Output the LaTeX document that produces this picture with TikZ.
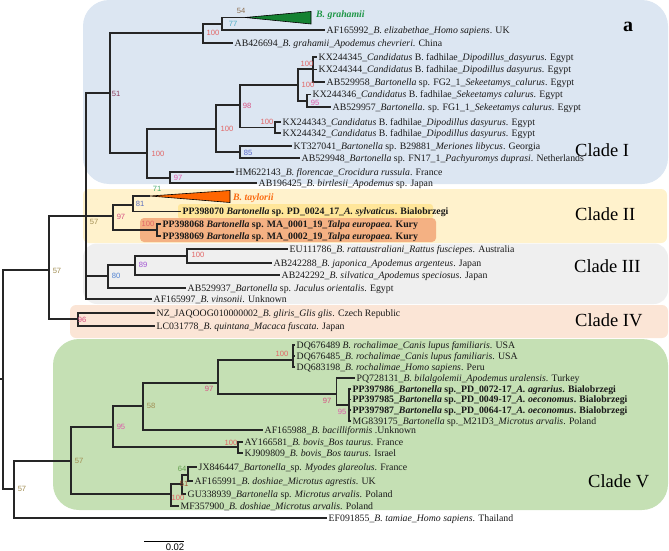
\documentclass[tikz,border=0pt]{standalone}
\usepackage{fontspec}
\setmainfont{Liberation Serif}
\newfontfamily\bsfont{Liberation Sans}
\definecolor{bgblue}{RGB}{220,230,242}
\definecolor{bgyellow}{RGB}{255,242,204}
\definecolor{bggray}{RGB}{239,239,239}
\definecolor{bgpeach}{RGB}{251,229,214}
\definecolor{bggreen}{RGB}{197,224,180}
\definecolor{hlyellow}{RGB}{255,230,153}
\definecolor{hlorange}{RGB}{244,177,131}
\definecolor{cgreen}{RGB}{30,150,70}
\definecolor{ctri}{RGB}{20,130,50}
\definecolor{corange}{RGB}{250,105,15}
\definecolor{ctriorange}{RGB}{255,102,0}
\definecolor{cA}{RGB}{226,102,102}
\definecolor{cB}{RGB}{214,80,130}
\definecolor{cC}{RGB}{220,90,170}
\definecolor{cD}{RGB}{140,60,90}
\definecolor{cE}{RGB}{140,110,80}
\definecolor{cF}{RGB}{75,172,198}
\definecolor{cG}{RGB}{85,100,200}
\definecolor{cH}{RGB}{160,80,210}
\definecolor{cI}{RGB}{80,130,210}
\definecolor{cJ}{RGB}{160,140,80}
\definecolor{cK}{RGB}{100,160,80}
\definecolor{cL}{RGB}{70,170,110}
\definecolor{cM}{RGB}{90,110,190}
\definecolor{cN}{RGB}{160,80,50}
\begin{document}
\begin{tikzpicture}[x=1pt,y=-1pt,
  br/.style={line width=1.1pt, draw=black!85},
  leaf/.style={anchor=west, inner xsep=1.5pt, inner ysep=0pt, text height=7.2pt, text depth=0.8pt, font=\fontsize{9.8}{11}\selectfont, text=black!90},
  bs/.style={inner sep=0pt, font=\bsfont\fontsize{7.6}{8}\selectfont},
  clade/.style={anchor=west, inner sep=0pt, font=\fontsize{18.5}{20}\selectfont},
]
\useasboundingbox (0,0) rectangle (669,551);
% backgrounds
\fill[bgblue, rounded corners=26pt] (83,0) rectangle (668,184);
\fill[bgyellow, rounded corners=6pt] (83,189) rectangle (667,243);
\fill[bggray, rounded corners=14pt] (83,243.5) rectangle (668,304);
\fill[bgpeach, rounded corners=6pt] (70,305) rectangle (668,338);
\fill[bggreen, rounded corners=26pt] (53,339) rectangle (668,510);
\fill[hlyellow, rounded corners=3pt] (178,204) rectangle (433,219);
\fill[hlorange, rounded corners=4pt] (140,218) rectangle (436,242);
% internal nodes
\coordinate (r) at (0,379);
\coordinate (n3) at (3,379);
\coordinate (n49) at (49,270);
\coordinate (n86) at (86,216);
\coordinate (n110) at (110,93);
\coordinate (n203) at (203,33);
\coordinate (n222) at (222,24);
\coordinate (gApex) at (245,17.5);
\coordinate (n147) at (147,153);
\coordinate (n216) at (216,129);
\coordinate (n240) at (240,105);
\coordinate (n298) at (298,85);
\coordinate (n313) at (313,69);
\coordinate (n307) at (307,101);
\coordinate (n275) at (275,127.5);
\coordinate (n240b) at (240,152);
\coordinate (n170) at (170,178);
\coordinate (n113) at (113,216);
\coordinate (n133) at (133,205);
\coordinate (tApex) at (150,196);
\coordinate (n157) at (157,230);
\coordinate (n108) at (108,276);
\coordinate (n135) at (135,265);
\coordinate (n187) at (187,256);
\coordinate (n78) at (78,319);
\coordinate (n14) at (14,489);
\coordinate (n71) at (71,461);
\coordinate (n113v) at (113,427);
\coordinate (n143) at (143,406);
\coordinate (n218) at (218,383);
\coordinate (n293) at (293,360);
\coordinate (n337) at (336.5,394);
\coordinate (n348) at (349,405);
\coordinate (n238) at (238,447);
\coordinate (n171) at (171,494);
\coordinate (n182) at (182,484);
\coordinate (n188) at (188,475);
% leaves: clade I
\node[leaf] (AF165992) at (325,30) {AF165992\_\textit{B. elizabethae\_Homo sapiens}. UK};
\node[leaf] (AB426694) at (233,43) {AB426694\_\textit{B. grahamii\_Apodemus chevrieri}. China};
\node[leaf] (KX244345) at (317,57) {KX244345\_\textit{Candidatus} B. fadhilae\_\textit{Dipodillus\_dasyurus}. Egypt};
\node[leaf] (KX244344) at (317,69.5) {KX244344\_\textit{Candidatus} B. fadhilae\_\textit{Dipodillus dasyurus}. Egypt};
\node[leaf] (AB529958) at (325,82) {AB529958\_\textit{Bartonella} sp. FG2\_1\_\textit{Sekeetamys\_calurus}. Egypt};
\node[leaf] (KX244346) at (311,94.5) {KX244346\_\textit{Candidatus} B. fadhilae\_\textit{Sekeetamys calurus}. Egypt};
\node[leaf] (AB529957) at (331,107) {AB529957\_\textit{Bartonella}. sp. FG1\_1\_\textit{Sekeetamys calurus}. Egypt};
\node[leaf] (KX244343) at (281,122) {KX244343\_\textit{Candidatus} B. fadhilae\_\textit{Dipodillus dasyurus}. Egypt};
\node[leaf] (KX244342) at (281,133) {KX244342\_\textit{Candidatus} B. fadhilae\_\textit{Dipodillus dasyurus}. Egypt};
\node[leaf] (KT327041) at (292,146) {KT327041\_\textit{Bartonella} sp. B29881\_\textit{Meriones libycus}. Georgia};
\node[leaf] (AB529948) at (300,158) {AB529948\_\textit{Bartonella} sp. FN17\_1\_\textit{Pachyuromys duprasi}. Netherlands};
\node[leaf] (HM622143) at (234,172) {HM622143\_\textit{B. florencae\_Crocidura russula}. France};
\node[leaf] (AB196425) at (257,183) {AB196425\_\textit{B. birtlesii\_Apodemus} sp. Japan};
% clade II
\node[leaf] (PP398070) at (181,211.5) {\textbf{PP398070 \textit{Bartonella} sp. PD\_0024\_17\_\textit{A. sylvaticus}. Bialobrzegi}};
\node[leaf] (PP398068) at (161,224) {\textbf{PP398068 \textit{Bartonella} sp. MA\_0001\_19\_\textit{Talpa europaea}. Kury}};
\node[leaf] (PP398069) at (161,236) {\textbf{PP398069 \textit{Bartonella} sp. MA\_0002\_19\_\textit{Talpa europaea}. Kury}};
% clade III
\node[leaf] (EU111786) at (288,249) {EU111786\_\textit{B. rattaustraliani\_Rattus fusciepes}. Australia};
\node[leaf] (AB242288) at (272,263) {AB242288\_\textit{B. japonica\_Apodemus argenteus}. Japan};
\node[leaf] (AB242292) at (280,275) {AB242292\_\textit{B. silvatica\_Apodemus speciosus}. Japan};
\node[leaf] (AB529937) at (186,288) {AB529937\_\textit{Bartonella} sp. \textit{Jaculus orientalis}. Egypt};
\node[leaf] (AF165997) at (152,299) {AF165997\_\textit{B. vinsonii}. Unknown};
% clade IV
\node[leaf] (NZJAQ) at (155,313) {NZ\_JAQOOG010000002\_\textit{B. gliris\_Glis glis}. Czech Republic};
\node[leaf] (LC031778) at (155,326) {LC031778\_\textit{B. quintana\_Macaca fuscata}. Japan};
% clade V
\node[leaf] (DQ676489) at (295,345) {DQ676489 \textit{B. rochalimae\_Canis lupus familiaris}. USA};
\node[leaf] (DQ676485) at (295,356) {DQ676485\_\textit{B. rochalimae\_Canis lupus familiaris}. USA};
\node[leaf] (DQ683198) at (295,367) {DQ683198\_\textit{B. rochalimae\_Homo sapiens}. Peru};
\node[leaf] (PQ728131) at (355,378) {PQ728131\_\textit{B. bilalgolemii\_Apodemus uralensis}. Turkey};
\node[leaf] (PP397986) at (351,389) {\textbf{PP397986\_\textit{Bartonella} sp.\_PD\_0072-17\_\textit{A. agrarius}. Bialobrzegi}};
\node[leaf] (PP397985) at (351,399.5) {\textbf{PP397985\_\textit{Bartonella} sp.\_PD\_0049-17\_\textit{A. oeconomus}. Bialobrzegi}};
\node[leaf] (PP397987) at (351,410) {\textbf{PP397987\_\textit{Bartonella} sp.\_PD\_0064-17\_\textit{A. oeconomus}. Bialobrzegi}};
\node[leaf] (MG839175) at (351,421) {MG839175\_\textit{Bartonella} sp.\_M21D3\_\textit{Microtus arvalis}. Poland};
\node[leaf] (AF165988) at (263,430) {AF165988\_\textit{B. bacilliformis} .Unknown};
\node[leaf] (AY166581) at (243,442) {AY166581\_\textit{B. bovis\_Bos taurus}. France};
\node[leaf] (KJ909809) at (243,453) {KJ909809\_\textit{B. bovis\_Bos taurus}. Israel};
\node[leaf] (JX846447) at (197,467) {JX846447\_\textit{Bartonella}\_sp. \textit{Myodes glareolus}. France};
\node[leaf] (AF165991) at (193,481) {AF165991\_\textit{B. doshiae\_Microtus agrestis}. UK};
\node[leaf] (GU338939) at (186,494) {GU338939\_\textit{Bartonella} sp. \textit{Microtus arvalis}. Poland};
\node[leaf] (MF357900) at (179,506) {MF357900\_\textit{B. doshiae\_Microtus arvalis}. Poland};
\node[leaf] (EF091855) at (327,518) {EF091855\_\textit{B. tamiae\_Homo sapiens}. Thailand};
% collapsed subtrees
\filldraw[fill=ctri, draw=black, line width=0.6pt] (gApex) -- (311,11.5) -- (311,24) -- cycle;
\node[anchor=west, inner sep=0pt, text=cgreen, font=\fontsize{9.8}{11}\selectfont\bfseries\itshape] (grah) at (316,15) {B. grahamii};
\filldraw[fill=ctriorange, draw=black, line width=0.6pt] (tApex) -- (230,190.5) -- (230,202.5) -- cycle;
\node[anchor=west, inner sep=0pt, text=corange, font=\fontsize{9.8}{11}\selectfont\bfseries\itshape] (tayl) at (233,198) {B. taylorii};
% branches
\draw[br] (r) -- (n3);
\draw[br] (n3) |- (n49);
\draw[br] (n3) |- (n14);
\draw[br] (n49) |- (n86);
\draw[br] (n49) |- (n78);
\draw[br] (n86) |- (n110);
\draw[br] (n86) -- (n113);
\draw[br] (n86) |- (n108);
\draw[br] (n86) |- (AF165997.west);
\draw[br] (n110) |- (n203);
\draw[br] (n110) |- (n147);
\draw[br] (n203) |- (n222);
\draw[br] (n203) |- (AB426694.west);
\draw[br] (n222) |- (gApex);
\draw[br] (n222) |- (AF165992.west);
\draw[br] (n147) |- (n216);
\draw[br] (n147) |- (n170);
\draw[br] (n216) |- (n240);
\draw[br] (n216) |- (n240b);
\draw[br] (n240) |- (n298);
\draw[br] (n240) |- (n275);
\draw[br] (n298) |- (n313);
\draw[br] (n298) |- (n307);
\draw[br] (n313) |- (KX244345.west);
\draw[br] (n313) |- (KX244344.west);
\draw[br] (n313) |- (AB529958.west);
\draw[br] (n307) |- (KX244346.west);
\draw[br] (n307) |- (AB529957.west);
\draw[br] (n275) |- (KX244343.west);
\draw[br] (n275) |- (KX244342.west);
\draw[br] (n240b) |- (KT327041.west);
\draw[br] (n240b) |- (AB529948.west);
\draw[br] (n170) |- (HM622143.west);
\draw[br] (n170) |- (AB196425.west);
\draw[br] (n113) |- (n133);
\draw[br] (n113) |- (n157);
\draw[br] (n133) |- (tApex);
\draw[br] (n133) |- (PP398070.west);
\draw[br] (n157) |- (PP398068.west);
\draw[br] (n157) |- (PP398069.west);
\draw[br] (n108) |- (n135);
\draw[br] (n108) |- (AB529937.west);
\draw[br] (n135) |- (n187);
\draw[br] (n135) |- (AB242292.west);
\draw[br] (n187) |- (EU111786.west);
\draw[br] (n187) |- (AB242288.west);
\draw[br] (n78) |- (NZJAQ.west);
\draw[br] (n78) |- (LC031778.west);
\draw[br] (n14) |- (n71);
\draw[br] (n14) |- (EF091855.west);
\draw[br] (n71) |- (n113v);
\draw[br] (n71) |- (n171);
\draw[br] (n113v) |- (n143);
\draw[br] (n113v) |- (n238);
\draw[br] (n143) |- (n218);
\draw[br] (n143) |- (AF165988.west);
\draw[br] (n218) |- (n293);
\draw[br] (n218) |- (n337);
\draw[br] (n293) |- (DQ676489.west);
\draw[br] (n293) |- (DQ676485.west);
\draw[br] (n293) |- (DQ683198.west);
\draw[br] (n337) |- (PQ728131.west);
\draw[br] (n337) |- (n348);
\draw[br] (n348) |- (PP397986.west);
\draw[br] (n348) |- (PP397985.west);
\draw[br] (n348) |- (PP397987.west);
\draw[br] (n348) |- (MG839175.west);
\draw[br] (n238) |- (AY166581.west);
\draw[br] (n238) |- (KJ909809.west);
\draw[br] (n171) |- (n182);
\draw[br] (n171) |- (MF357900.west);
\draw[br] (n182) |- (n188);
\draw[br] (n182) |- (GU338939.west);
\draw[br] (n188) |- (JX846447.west);
\draw[br] (n188) |- (AF165991.west);
% bootstrap values
\node[bs, text=cE] (b1) at (241,11) {54};
\node[bs, text=cF] (b2) at (233,24) {77};
\node[bs, text=cA] (b3) at (213,33) {100};
\node[bs, text=cD] (b4) at (116,94) {51};
\node[bs, text=cA] (b5) at (307,64) {100};
\node[bs, text=cA] (b6) at (308,85) {100};
\node[bs, text=cC] (b7) at (315,102.5) {95};
\node[bs, text=cB] (b8) at (247,106) {98};
\node[bs, text=cA] (b9) at (267,122) {100};
\node[bs, text=cA] (b10) at (227,129) {100};
\node[bs, text=cG] (b11) at (248,153) {85};
\node[bs, text=cA] (b12) at (158,154) {100};
\node[bs, text=cC] (b13) at (178,178) {97};
\node[bs, text=cL] (b14) at (157,189) {71};
\node[bs, text=cM] (b15) at (140,204) {81};
\node[bs, text=cB] (b16) at (121,217) {97};
\node[bs, text=cA] (b17) at (148,224) {100};
\node[bs, text=cJ] (b18) at (94,222) {57};
\node[bs, text=cA] (b19) at (198,255) {100};
\node[bs, text=cH] (b20) at (143,265) {89};
\node[bs, text=cI] (b21) at (116,276) {80};
\node[bs, text=cJ] (b22) at (57,271) {57};
\node[bs, text=cB] (b23) at (82,320) {96};
\node[bs, text=cA] (b24) at (282,354) {100};
\node[bs, text=cB] (b25) at (209,389) {97};
\node[bs, text=cB] (b26) at (327,401) {97};
\node[bs, text=cC] (b27) at (342,412) {95};
\node[bs, text=cJ] (b28) at (151,406) {58};
\node[bs, text=cC] (b29) at (121,427) {95};
\node[bs, text=cA] (b30) at (231,443) {100};
\node[bs, text=cJ] (b31) at (79,461) {57};
\node[bs, text=cK] (b32) at (182,469) {64};
\node[bs, text=cN] (b33) at (184,484) {51};
\node[bs, text=cA] (b34) at (178,498) {100};
\node[bs, text=cJ] (b35) at (22,489) {57};
% clade labels
\node[clade] (c1) at (575,150) {Clade I};
\node[clade] (c2) at (575,214) {Clade II};
\node[clade] (c3) at (574,266) {Clade III};
\node[clade] (c4) at (575,320) {Clade IV};
\node[clade] (c5) at (588,481) {Clade V};
\node[inner sep=0pt, font=\fontsize{20}{22}\selectfont\bfseries] (pa) at (628,27) {a};
% scale bar
\coordinate (s1) at (144,541);
\coordinate (s2) at (184,541);
\draw[line width=0.8pt] (s1) -- (s2);
\node[bs, font=\bsfont\fontsize{9.5}{10}\selectfont] (sl) at (175,547) {0.02};
\end{tikzpicture}
\end{document}
